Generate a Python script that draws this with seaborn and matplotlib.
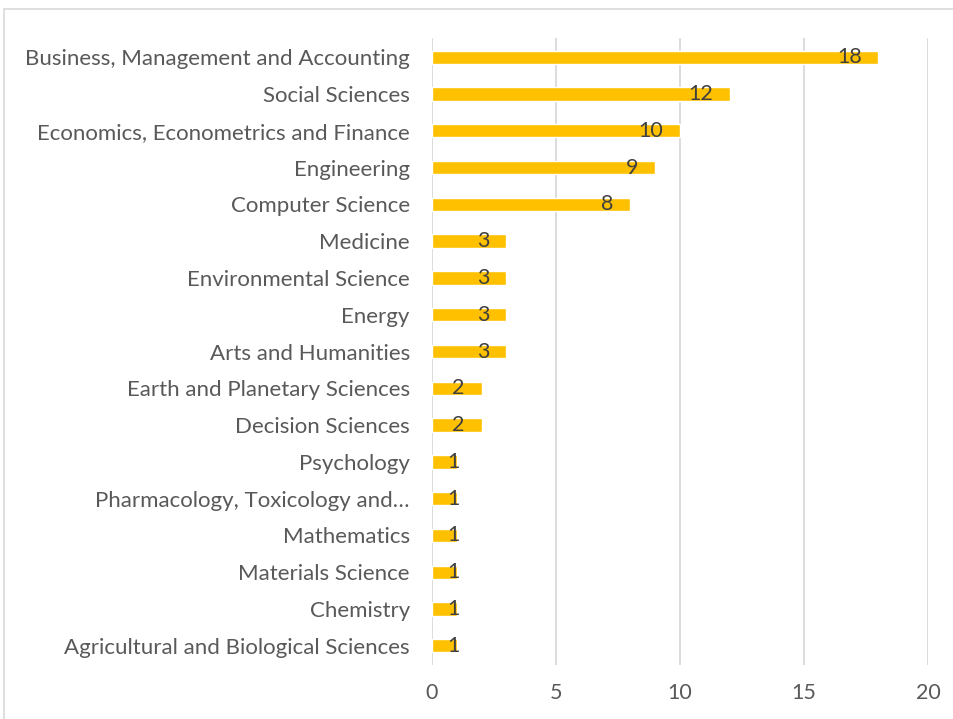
import matplotlib
matplotlib.use("Agg")
import matplotlib.pyplot as plt
import seaborn as sns
import pandas as pd
from matplotlib.patches import Rectangle

categories = [
    "Business, Management and Accounting",
    "Social Sciences",
    "Economics, Econometrics and Finance",
    "Engineering",
    "Computer Science",
    "Medicine",
    "Environmental Science",
    "Energy",
    "Arts and Humanities",
    "Earth and Planetary Sciences",
    "Decision Sciences",
    "Psychology",
    "Pharmacology, Toxicology and…",
    "Mathematics",
    "Materials Science",
    "Chemistry",
    "Agricultural and Biological Sciences",
]
values = [18, 12, 10, 9, 8, 3, 3, 3, 3, 2, 2, 1, 1, 1, 1, 1, 1]
x_ticks = [0, 5, 10, 15, 20]

sns.set_theme(style="white")
plt.rcParams["font.family"] = ["Lato", "DejaVu Sans"]

df = pd.DataFrame({"category": categories, "value": values})

fig = plt.figure(figsize=(9.54, 7.19), dpi=100)
ax = fig.add_axes([432 / 954, 1 - 665 / 719, (928 - 432) / 954, (665 - 38) / 719])

sns.barplot(data=df, y="category", x="value", orient="h", color="#FFC000",
            saturation=1, width=0.36, ax=ax, zorder=3)

ax.set_xlim(0, 20)
ax.set_ylim(len(categories) - 0.48, -0.52)
ax.set_xticks(x_ticks)
ax.set_xticklabels([str(t) for t in x_ticks])
ax.grid(axis="x", color="#D9D9D9", linewidth=1.3, zorder=0)
ax.grid(axis="y", visible=False)
for s in ax.spines.values():
    s.set_visible(False)
ax.set_xlabel("")
ax.set_ylabel("")
ax.tick_params(axis="both", length=0, labelcolor="#595959")
ax.tick_params(axis="y", pad=16, labelsize=16)
ax.tick_params(axis="x", pad=13, labelsize=15.5)

# data labels (inside end)
px_per_unit = (928 - 432) / 20
for i, v in enumerate(values):
    w = 0.47 * len(str(v))
    cx = v - 17.5 / px_per_unit - w / 2
    cx = max(cx, 0.85)
    ax.text(cx, i, str(v), ha="center", va="center", fontsize=15.5,
            color="#404040", zorder=4)

fig.patches.append(Rectangle((4 / 954, -0.1), 1.2, 1 - 9 / 719 + 0.1,
                             transform=fig.transFigure, fill=False,
                             edgecolor="#D9D9D9", linewidth=1.2))

fig.savefig("out.png", dpi=100)
